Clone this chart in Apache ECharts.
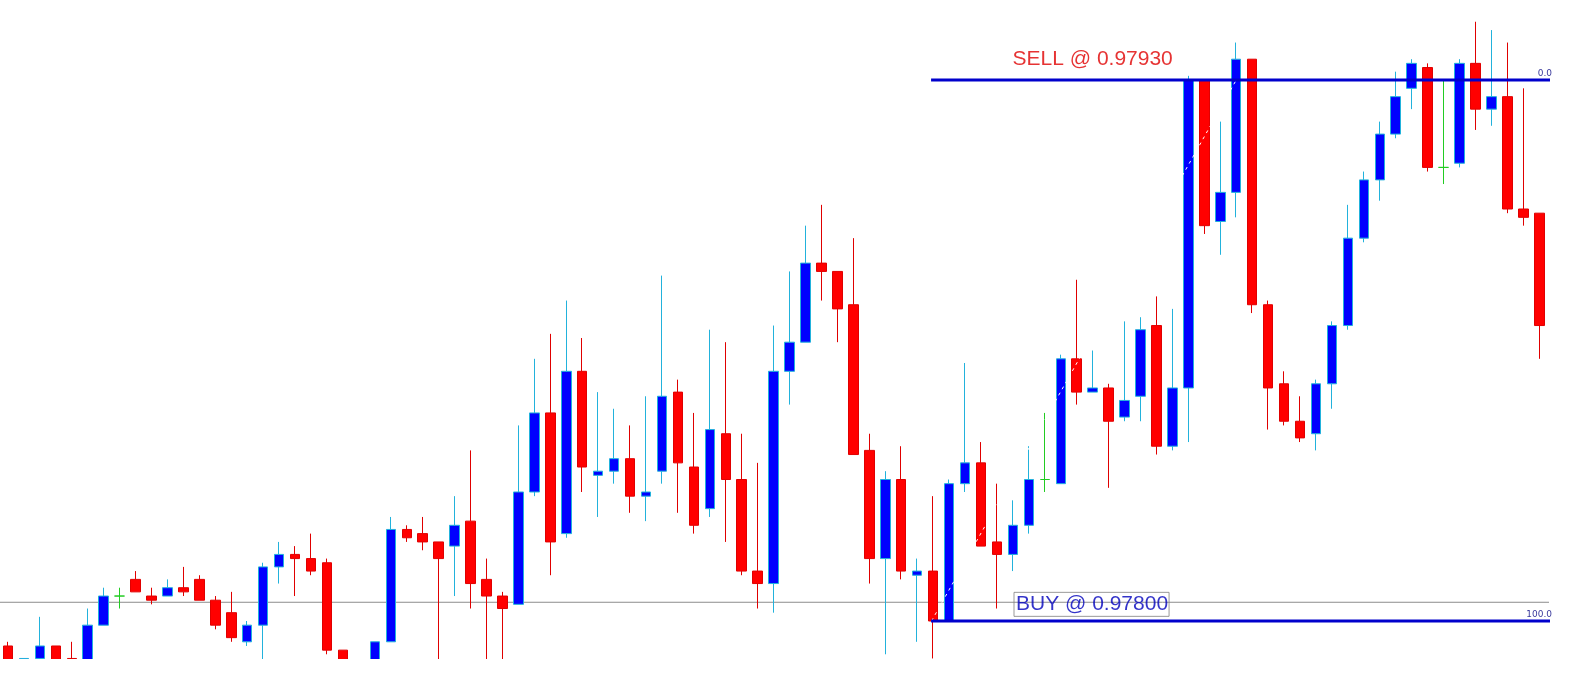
<!DOCTYPE html>
<html><head><meta charset="utf-8">
<script src="https://cdn.jsdelivr.net/npm/echarts@6/dist/echarts.min.js"></script>
<style>html,body{margin:0;padding:0;background:#fff}#c{width:1596px;height:677px}</style>
</head><body><div id="c"></div>
<script>
// Candle values (price)
const opens = [0.97794,0.97790,0.97791,0.97794,0.97791,0.97788,0.97799,0.97806,0.97810,0.97806,
0.97806,0.97808,0.97810,0.97805,0.97802,0.97795,0.97799,0.97813,0.97816,0.97815,
0.97814,0.97793,0.97789,0.97788,0.97795,0.97822,0.97821,0.97819,0.97818,0.97824,
0.97810,0.97806,0.97804,0.97831,0.97850,0.97821,0.97860,0.97835,0.97836,0.97839,
0.97830,0.97836,0.97855,0.97837,0.97827,0.97845,0.97834,0.97812,0.97809,0.97860,
0.97867,0.97886,0.97884,0.97876,0.97841,0.97815,0.97834,0.97811,0.97812,0.97800,
0.97833,0.97838,0.97819,0.97816,0.97823,0.97834,0.97833,0.97863,0.97855,0.97856,
0.97849,0.97854,0.97871,0.97842,0.97856,0.97930,0.97896,0.97903,0.97935,0.97876,
0.97857,0.97848,0.97845,0.97857,0.97871,0.97892,0.97906,0.97917,0.97928,0.97933,
0.97909,0.97910,0.97934,0.97923,0.97926,0.97899,0.97898];
const closes = [0.97788,0.97791,0.97794,0.97788,0.97790,0.97799,0.97806,0.97806,0.97807,0.97805,
0.97808,0.97807,0.97805,0.97799,0.97796,0.97799,0.97813,0.97816,0.97815,0.97812,
0.97793,0.97788,0.97787,0.97795,0.97822,0.97820,0.97819,0.97815,0.97823,0.97809,
0.97806,0.97803,0.97831,0.97850,0.97819,0.97860,0.97837,0.97836,0.97839,0.97830,
0.97831,0.97854,0.97838,0.97823,0.97846,0.97834,0.97812,0.97809,0.97860,0.97867,
0.97886,0.97884,0.97875,0.97840,0.97815,0.97834,0.97812,0.97812,0.97800,0.97833,
0.97838,0.97818,0.97816,0.97823,0.97834,0.97834,0.97863,0.97855,0.97856,0.97848,
0.97853,0.97870,0.97842,0.97856,0.97930,0.97895,0.97903,0.97935,0.97876,0.97856,
0.97848,0.97844,0.97857,0.97871,0.97892,0.97906,0.97917,0.97926,0.97934,0.97909,
0.97909,0.97934,0.97923,0.97926,0.97899,0.97897,0.97871];
const lows = [0.97786,0.97789,0.97790,0.97787,0.97789,0.97787,0.97799,0.97803,0.97807,0.97804,
0.97806,0.97806,0.97805,0.97798,0.97795,0.97794,0.97790,0.97809,0.97806,0.97811,
0.97792,0.97787,0.97786,0.97787,0.97795,0.97819,0.97817,0.97790,0.97806,0.97803,
0.97790,0.97790,0.97804,0.97830,0.97811,0.97820,0.97831,0.97825,0.97833,0.97826,
0.97824,0.97833,0.97826,0.97821,0.97825,0.97819,0.97811,0.97803,0.97802,0.97852,
0.97867,0.97877,0.97867,0.97840,0.97809,0.97792,0.97810,0.97795,0.97791,0.97800,
0.97831,0.97818,0.97803,0.97812,0.97821,0.97831,0.97833,0.97852,0.97855,0.97832,
0.97848,0.97848,0.97840,0.97841,0.97843,0.97893,0.97888,0.97897,0.97874,0.97846,
0.97847,0.97843,0.97841,0.97851,0.97870,0.97891,0.97901,0.97916,0.97923,0.97908,
0.97905,0.97909,0.97918,0.97919,0.97898,0.97895,0.97863];
const highs = [0.97795,0.97791,0.97801,0.97794,0.97795,0.97803,0.97808,0.97808,0.97812,0.97808,
0.97810,0.97813,0.97811,0.97806,0.97807,0.97800,0.97814,0.97819,0.97818,0.97821,
0.97815,0.97793,0.97790,0.97795,0.97825,0.97823,0.97825,0.97819,0.97830,0.97841,
0.97815,0.97807,0.97847,0.97863,0.97869,0.97877,0.97868,0.97855,0.97851,0.97847,
0.97854,0.97883,0.97858,0.97850,0.97870,0.97867,0.97845,0.97838,0.97871,0.97884,
0.97895,0.97900,0.97884,0.97892,0.97845,0.97836,0.97842,0.97815,0.97830,0.97834,
0.97862,0.97843,0.97833,0.97829,0.97842,0.97850,0.97864,0.97882,0.97865,0.97857,
0.97872,0.97873,0.97878,0.97875,0.97931,0.97930,0.97920,0.97939,0.97935,0.97877,
0.97860,0.97854,0.97858,0.97872,0.97900,0.97908,0.97920,0.97932,0.97935,0.97934,
0.97930,0.97935,0.97944,0.97942,0.97939,0.97928,0.97898];

// Levels and annotations
const sellPrice = 0.97930;
const buyPrice = 0.97800;
const greyLinePrice = 0.978045;
const levelStartIdx = 57.87, levelEndIdx = 96.8;   // bar index range of the level lines
const trendStart = [57.9, 0.97800], trendEnd = [77.0, 0.97930];
const sellLabelAt = [68.0, 0.97935];
const buyLabelAt = [67.93, 0.97804];
const yMin = 0.97790869, yMax = 0.97949225;

const categories = opens.map((_, i) => String(i + 1));
const N = categories.length;

const W = 1596, H = 677;
const gridTop = 0, gridHeight = 659, gridLeft = -2.7, band = 15.979;

const candleData = opens.map((o, i) => {
  const item = { value: [o, closes[i], lows[i], highs[i]] };
  if (o === closes[i]) {
    item.itemStyle = { borderColor: '#22cc22', borderColor0: '#22cc22', borderColorDoji: '#22cc22' };
  }
  return item;
});

const chart = echarts.init(document.getElementById('c'), null, { renderer: 'canvas' });
const levelColor = '#0000cc';
chart.setOption({
  backgroundColor: '#ffffff',
  animation: false,
  grid: { left: gridLeft, top: gridTop, width: N * band, height: gridHeight, containLabel: false },
  xAxis: [
    { type: 'category', data: categories, show: false, boundaryGap: true },
    { type: 'value', min: -0.5, max: N - 0.5, show: false }
  ],
  yAxis: [{ type: 'value', min: yMin, max: yMax, show: false, scale: true }],
  graphic: [{
    type: 'rect', z: 100, silent: true,
    shape: { x: 0, y: gridTop + gridHeight, width: W, height: H - gridTop - gridHeight },
    style: { fill: '#ffffff' }
  }],
  series: [
    {
      type: 'line', xAxisIndex: 1, z: 1, symbol: 'none', silent: true, clip: false,
      data: [[-0.5, greyLinePrice], [levelEndIdx, greyLinePrice]],
      lineStyle: { color: '#8c8c8c', width: 1 }
    },
    {
      type: 'candlestick', xAxisIndex: 0, z: 2, barWidth: 10, clip: true,
      data: candleData,
      itemStyle: {
        color: '#0000ff', color0: '#ff0000',
        borderColor: '#22b2dc', borderColor0: '#e00000', borderColorDoji: '#22cc22',
        borderWidth: 1
      }
    },
    {
      type: 'line', xAxisIndex: 1, z: 3, symbol: 'none', silent: true, clip: false,
      data: [trendStart, trendEnd],
      lineStyle: { color: '#ffffff', width: 1, type: [3, 4] }
    },
    {
      type: 'line', xAxisIndex: 1, z: 4, symbol: 'none', silent: true, clip: false,
      data: [[levelStartIdx, sellPrice], [levelEndIdx, sellPrice]],
      lineStyle: { color: levelColor, width: 3 }
    },
    {
      type: 'line', xAxisIndex: 1, z: 4, symbol: 'none', silent: true, clip: false,
      data: [[levelStartIdx, buyPrice], [levelEndIdx, buyPrice]],
      lineStyle: { color: levelColor, width: 3 }
    },
    {
      type: 'scatter', xAxisIndex: 1, z: 5, symbolSize: 0, silent: true, clip: false,
      data: [
        { value: sellLabelAt, label: { show: true, position: 'inside', formatter: 'SELL @ ' + sellPrice.toFixed(5),
          color: '#e00000', fontSize: 21, fontFamily: 'Liberation Sans' } },
        { value: buyLabelAt, label: { show: true, position: 'inside', formatter: 'BUY @ ' + buyPrice.toFixed(5),
          color: '#0000bb', fontSize: 21, fontFamily: 'Liberation Sans', lineHeight: 21,
          borderColor: '#808080', borderWidth: 1, padding: [2, 1, 1, 2] } },
        { value: [levelEndIdx, sellPrice], label: { show: true, position: 'inside', formatter: '0.0',
          align: 'right', verticalAlign: 'bottom', offset: [0, -2], color: '#000080', fontSize: 9, fontFamily: 'DejaVu Sans' } },
        { value: [levelEndIdx, buyPrice], label: { show: true, position: 'inside', formatter: '100.0',
          align: 'right', verticalAlign: 'bottom', offset: [0, -2], color: '#000080', fontSize: 9, fontFamily: 'DejaVu Sans' } }
      ]
    }
  ]
});
</script>
</body></html>
